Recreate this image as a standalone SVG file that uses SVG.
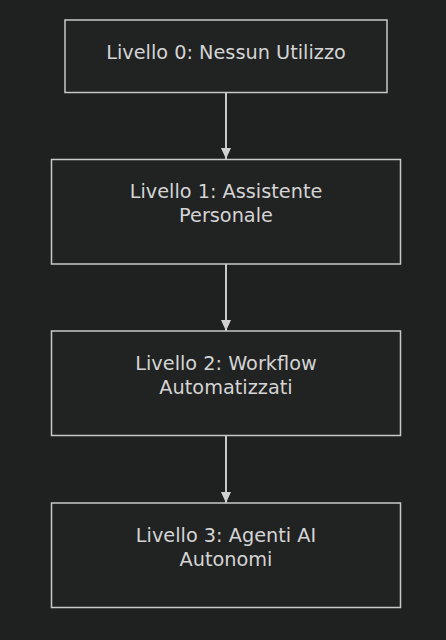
<svg xmlns="http://www.w3.org/2000/svg" width="446" height="640" viewBox="0 0 446 640">
<style>
.bg{fill:#1f2020}
.node rect{fill:#212222;stroke:#c8c8c8;stroke-width:1.5}
.node text{fill:#d4d4d4;font-family:"DejaVu Sans",sans-serif;font-size:19.3px;text-anchor:middle}
.edge{stroke:#c8c8c8;stroke-width:2;fill:none}
</style>
<defs>
<marker id="arrow" markerWidth="11" markerHeight="10" refX="11" refY="5" orient="auto" markerUnits="userSpaceOnUse">
<path d="M0,0 L11,5 L0,10 Z" fill="#d0d0d0"/>
</marker>
</defs>
<rect class="bg" x="0" y="0" width="446" height="640"/>
<g id="connectors">
<line class="edge" x1="226" y1="93" x2="226" y2="159" marker-end="url(#arrow)"/>
<line class="edge" x1="226" y1="264" x2="226" y2="331" marker-end="url(#arrow)"/>
<line class="edge" x1="226" y1="436" x2="226" y2="503" marker-end="url(#arrow)"/>
</g>
<g id="node0" class="node">
<rect x="65" y="20" width="322" height="72.5"/>
<text x="226" y="59">Livello 0: Nessun Utilizzo</text>
</g>
<g id="node1" class="node">
<rect x="51.5" y="159.5" width="349" height="104.5"/>
<text x="226" y="198">Livello 1: Assistente</text>
<text x="226" y="222">Personale</text>
</g>
<g id="node2" class="node">
<rect x="51.5" y="331" width="349" height="104.5"/>
<text x="226" y="370">Livello 2: Workflow</text>
<text x="226" y="394">Automatizzati</text>
</g>
<g id="node3" class="node">
<rect x="51.5" y="503" width="349" height="104.5"/>
<text x="226" y="542">Livello 3: Agenti AI</text>
<text x="226" y="566">Autonomi</text>
</g>
</svg>
